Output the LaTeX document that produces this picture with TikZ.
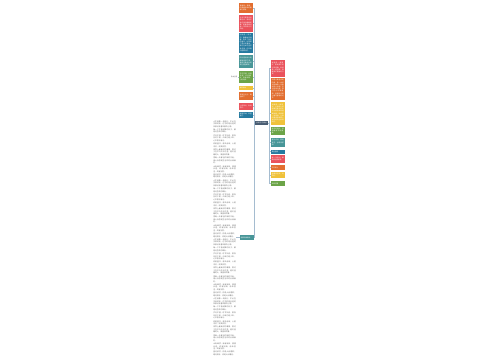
\documentclass[tikz,border=0pt]{standalone}
\usepackage{fontspec}
\newfontfamily\cjk{Noto Sans CJK SC}
\XeTeXlinebreaklocale "zh"
\XeTeXlinebreakskip = 0pt plus 1pt
\definecolor{corange}{RGB}{226,110,48}
\definecolor{cred}{RGB}{234,82,92}
\definecolor{cblue}{RGB}{38,122,160}
\definecolor{cteal}{RGB}{72,150,152}
\definecolor{cgreen}{RGB}{108,164,72}
\definecolor{cyellow}{RGB}{240,194,58}
\definecolor{cdark}{RGB}{72,92,114}
\definecolor{linec}{RGB}{165,188,208}
\definecolor{textgray}{RGB}{105,105,105}
\tikzset{
  box/.style={rectangle, minimum width=14pt, inner sep=0.8pt, text width=12.4pt,
    align=left, font=\cjk\fontsize{1.6pt}{2.2pt}\selectfont, text=white},
  conn/.style={draw=linec, line width=0.4pt},
}
\newcommand\tbpara[1]{#1\par}
\begin{document}
\begin{tikzpicture}[x={(1pt,0)}, y={(0,-1pt)}]
\useasboundingbox (0,0) rectangle (500,360);
% center
\node[box, fill=cdark, minimum width=13pt, text width=11.4pt, minimum height=4pt, align=center] (C) at (261.5,123) {优美句子摘抄};
% left column
\node[box, fill=corange, minimum height=10pt] (L1) at (246,8) {青春是一首歌，回荡着欢快的旋律与梦想。};
\node[box, fill=cred, minimum height=17pt] (L2) at (246,23.5) {生活不是等待风暴过去，而是学会在雨中翩翩起舞，用微笑面对每一天的阳光与风雨。};
\node[box, fill=cblue, minimum height=20pt] (L3) at (246,43) {时间是一条长河，静静地流淌着，带走了我们的童年，也带来了成长的喜悦。我们在岁月里学会坚强，在风雨中懂得珍惜。};
\node[box, fill=cteal, minimum height=13pt] (L4) at (246,61.5) {阳光透过树叶的缝隙洒落下来，像是无数金色的梦在轻轻跳跃。};
\node[box, fill=cgreen, minimum height=12pt] (L5) at (246,77) {花开花落，云卷云舒，岁月静好，现世安稳，心若向阳。};
\node[box, fill=cyellow, minimum height=4pt] (L6) at (246,88) {微笑面对};
\node[box, fill=corange, minimum height=8pt] (L7) at (246,96) {梦想在远方，路在脚下。};
\node[box, fill=cred, minimum height=7pt] (L8) at (246,106.5) {心有阳光，处处花开。};
\node[box, fill=cblue, minimum height=6pt] (L9) at (246,115) {脚踏实地，仰望星空。};
\node[box, fill=cteal, minimum height=5pt] (L10) at (247,237.5) {经典语录摘抄};
% free label
\node[inner sep=0pt, font=\cjk\fontsize{1.6pt}{2.2pt}\selectfont, text=textgray, anchor=east] (FL) at (237.5,77) {自由主题};
% text block
\node[inner sep=0pt, anchor=east, text=textgray] (TB) at (236,238.5) {\vbox to 236pt{\hsize=22.5pt\parindent=0pt\parskip=0pt plus 1fil
\cjk\fontsize{1.8pt}{2.5pt}\selectfont
\foreach \r in {1,2,3,4}{%
\tbpara{人生就像一场旅行，不必在乎目的地，在乎的是沿途的风景以及看风景的心情。}
\tbpara{每一个不曾起舞的日子，都是对生命的辜负。}
\tbpara{岁月不居，时节如流，愿你历尽千帆，归来仍是少年，心中依旧有光。}
\tbpara{你若盛开，清风自来；心若浮沉，浅笑安然。}
\tbpara{世界上最美好的事情，莫过于在平凡的日子里，遇见温暖的人，做喜欢的事。}
\tbpara{把每一天都当作新的开始，用心去感受生活中的点滴美好。}
\tbpara{山有峰顶，海有彼岸，漫漫长途，终有回转，余味苦涩，终有回甘。}
\tbpara{星河滚烫，你是人间理想；皓月清凉，你是人间曙光。}
}\par\vfil}};
% right column
\node[box, fill=cred, minimum height=17pt] (R1) at (278,68.5) {友谊是一盏明灯，照亮我们前行的道路；友谊是一杯清茶，温暖我们孤独的心灵。};
\node[box, fill=corange, minimum height=22pt] (R2) at (278,89) {书是人类进步的阶梯，读一本好书就像和一位高尚的人谈话。在书的海洋里，我们可以尽情遨游，感受知识的力量与智慧的光芒。};
\node[box, fill=cyellow, minimum height=23pt] (R3) at (278,113.5) {母爱是一缕阳光，让你的心灵即便在寒冷的冬天也能感受到温暖如春；母爱是一泓清泉，让你的情感即使蒙上岁月的风尘依然纯洁。};
\node[box, fill=cgreen, minimum height=8pt] (R4) at (278,131) {秋天的落叶，诉说着季节的更替。};
\node[box, fill=cteal, minimum height=9pt] (R5) at (278,142.5) {星光点点，照亮夜空，也照亮梦想。};
\node[box, fill=cblue, minimum height=4pt] (R6) at (278,151.5) {勇往直前};
\node[box, fill=cred, minimum height=8pt] (R7) at (278,159) {每一次努力，都是幸运的伏笔。};
\node[box, fill=corange, minimum height=5pt] (R8) at (278,167.5) {不忘初心};
\node[box, fill=cyellow, minimum height=6pt] (R9) at (278,175) {温柔且坚定，向前走。};
\node[box, fill=cgreen, minimum height=5pt] (R10) at (278,183.5) {未来可期};
% connectors
\foreach \n in {L1,L2,L3,L4,L5,L6,L7,L8,L9,L10}{\draw[conn] (C.west) -- ++(-0.8,0) |- (\n.east);}
\foreach \n in {R1,R2,R3,R4,R5,R6,R7,R8,R9,R10}{\draw[conn] (C.east) -- ++(1.4,0) |- (\n.west);}
\draw[conn] (L5.west) -- (FL.east);
\draw[conn] (L10.west) -- (TB.east |- L10.west);
\end{tikzpicture}
\end{document}
